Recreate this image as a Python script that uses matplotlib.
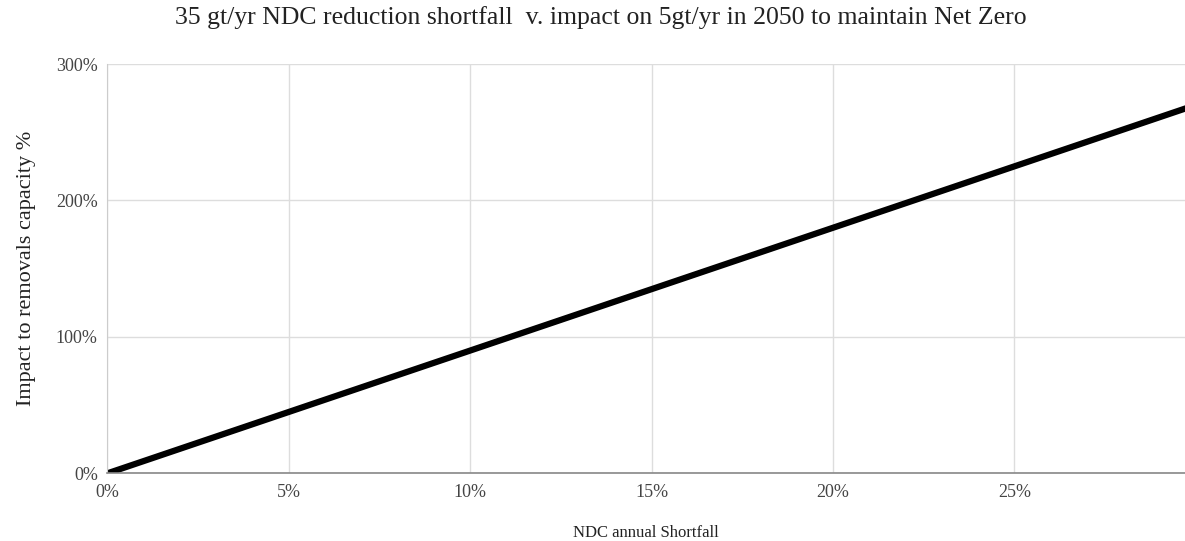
import matplotlib.pyplot as plt
from matplotlib.ticker import PercentFormatter

# NDC annual shortfall vs impact on 5 gt/yr removals capacity
shortfall = [0.00, 0.05, 0.10, 0.15, 0.20, 0.25, 0.30]
impact = [0.00, 0.45, 0.90, 1.35, 1.80, 2.25, 2.70]
x_ticks = [0.00, 0.05, 0.10, 0.15, 0.20, 0.25]
y_ticks = [0.0, 1.0, 2.0, 3.0]

plt.rcParams['font.family'] = ['Liberation Serif', 'DejaVu Serif']

fig = plt.figure(figsize=(11.85, 5.41), dpi=100)
ax = fig.add_axes([0.0907, 0.1251, 0.9093, 0.7566])

ax.plot(shortfall, impact, color='black', linewidth=4.5, solid_capstyle='butt')

ax.set_xlim(0, 0.297)
ax.set_ylim(0, 3.0)
ax.set_xticks(x_ticks)
ax.set_yticks(y_ticks)
ax.xaxis.set_major_formatter(PercentFormatter(1.0, decimals=0))
ax.yaxis.set_major_formatter(PercentFormatter(1.0, decimals=0))

ax.grid(True, color='#dddddd', linewidth=1)
ax.set_axisbelow(True)
for side in ['top', 'right']:
    ax.spines[side].set_visible(False)
ax.spines['left'].set_color('#cccccc')
ax.spines['bottom'].set_color('#888888')
ax.spines['bottom'].set_linewidth(1.2)
ax.tick_params(length=0, labelsize=13, colors='#444444')
ax.tick_params(axis='x', pad=8)
ax.tick_params(axis='y', pad=7)

fig.text(0.507, 0.968, '35 gt/yr NDC reduction shortfall  v. impact on 5gt/yr in 2050 to maintain Net Zero',
         fontsize=18.5, color='#222222', ha='center', va='center')
fig.text(0.545, 0.015, 'NDC annual Shortfall', fontsize=12, color='#222222',
         ha='center', va='center')
ax.set_ylabel('Impact to removals capacity %', fontsize=16, color='#222222', labelpad=14)

fig.savefig('out.png', dpi=100)
